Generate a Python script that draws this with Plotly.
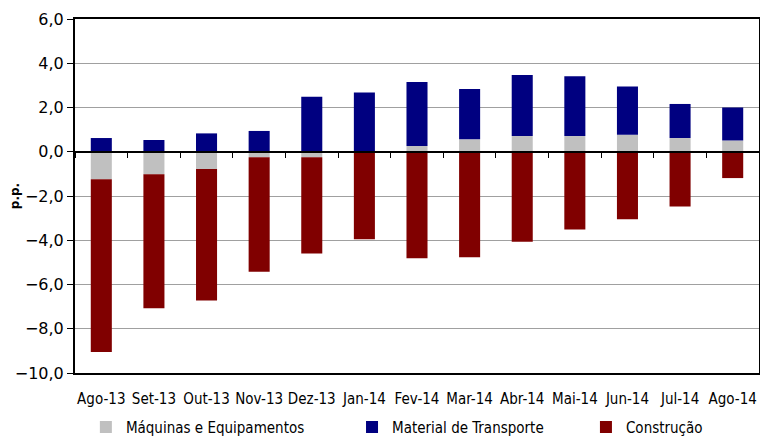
import plotly.graph_objects as go

categories = ["Ago-13", "Set-13", "Out-13", "Nov-13", "Dez-13", "Jan-14", "Fev-14",
              "Mar-14", "Abr-14", "Mai-14", "Jun-14", "Jul-14", "Ago-14"]
maquinas = [-1.24, -1.02, -0.78, -0.25, -0.25, 0.0, 0.26, 0.56, 0.71, 0.71, 0.77, 0.62, 0.51]
transporte = [0.62, 0.53, 0.83, 0.94, 2.49, 2.68, 2.89, 2.28, 2.76, 2.70, 2.18, 1.54, 1.49]
construcao = [-7.81, -6.05, -5.94, -5.17, -4.35, -3.95, -4.81, -4.77, -4.07, -3.51, -3.05, -2.47, -1.19]
y_ticks = [-10, -8, -6, -4, -2, 0, 2, 4, 6]

cond = "DejaVu Sans Condensed, DejaVu Sans, sans-serif"

fig = go.Figure()
fig.add_trace(go.Bar(x=categories, y=maquinas, name="Máquinas e Equipamentos",
                     marker=dict(color="#C0C0C0", line=dict(width=0)), width=0.4, legend="legend"))
fig.add_trace(go.Bar(x=categories, y=transporte, name="Material de Transporte",
                     marker=dict(color="#000080", line=dict(width=0)), width=0.4, legend="legend2"))
fig.add_trace(go.Bar(x=categories, y=construcao, name="Construção",
                     marker=dict(color="#800000", line=dict(width=0)), width=0.4, legend="legend3"))
# helper trace for the axis drawn through zero
fig.add_trace(go.Scatter(x=categories, y=[0] * len(categories), xaxis="x2", mode="lines",
                         line=dict(width=0), showlegend=False, hoverinfo="skip"))

legend_common = dict(orientation="h", yref="paper", y=-0.153, yanchor="middle",
                     xanchor="left", bgcolor="rgba(0,0,0,0)",
                     font=dict(family=cond, size=15, color="black"))

fig.update_layout(
    barmode="relative",
    width=752, height=428,
    margin=dict(l=67, r=1, t=11, b=63, autoexpand=False),
    plot_bgcolor="white", paper_bgcolor="white",
    separators=",.",
    xaxis=dict(type="category", categoryarray=categories, range=[-0.5, 12.5],
               automargin=False,
               showline=True, linecolor="black", linewidth=2, mirror=True,
               showgrid=False, ticks="", ticklabelstandoff=11,
               tickfont=dict(family=cond, size=15, color="black")),
    xaxis2=dict(type="category", categoryarray=categories, range=[-0.5, 12.5],
                overlaying="x", anchor="free", position=0.625, side="bottom",
                automargin=False,
                showline=True, linecolor="black", linewidth=1.5,
                ticks="outside", tickson="boundaries", ticklen=5, tickcolor="black",
                tickwidth=1, showticklabels=False, showgrid=False, layer="above traces"),
    yaxis=dict(range=[-10, 6], tickvals=y_ticks, tickformat=".1f",
               domain=[0, 1], automargin=False,
               showline=True, linecolor="black", linewidth=2, mirror=True,
               showgrid=True, gridcolor="#A0A0A0", gridwidth=1.3,
               zeroline=False,
               ticks="outside", ticklen=6, tickcolor="black",
               tickfont=dict(family="DejaVu Sans, sans-serif", size=16, color="black"),
               title=dict(text="<b>p.p.</b>", standoff=2,
                          font=dict(family="DejaVu Sans, sans-serif", size=12, color="black"))),
    legend=dict(x=0.0159, **legend_common),
    legend2=dict(x=0.405, **legend_common),
    legend3=dict(x=0.747, **legend_common),
    showlegend=True,
)

fig.write_html("out.html")
